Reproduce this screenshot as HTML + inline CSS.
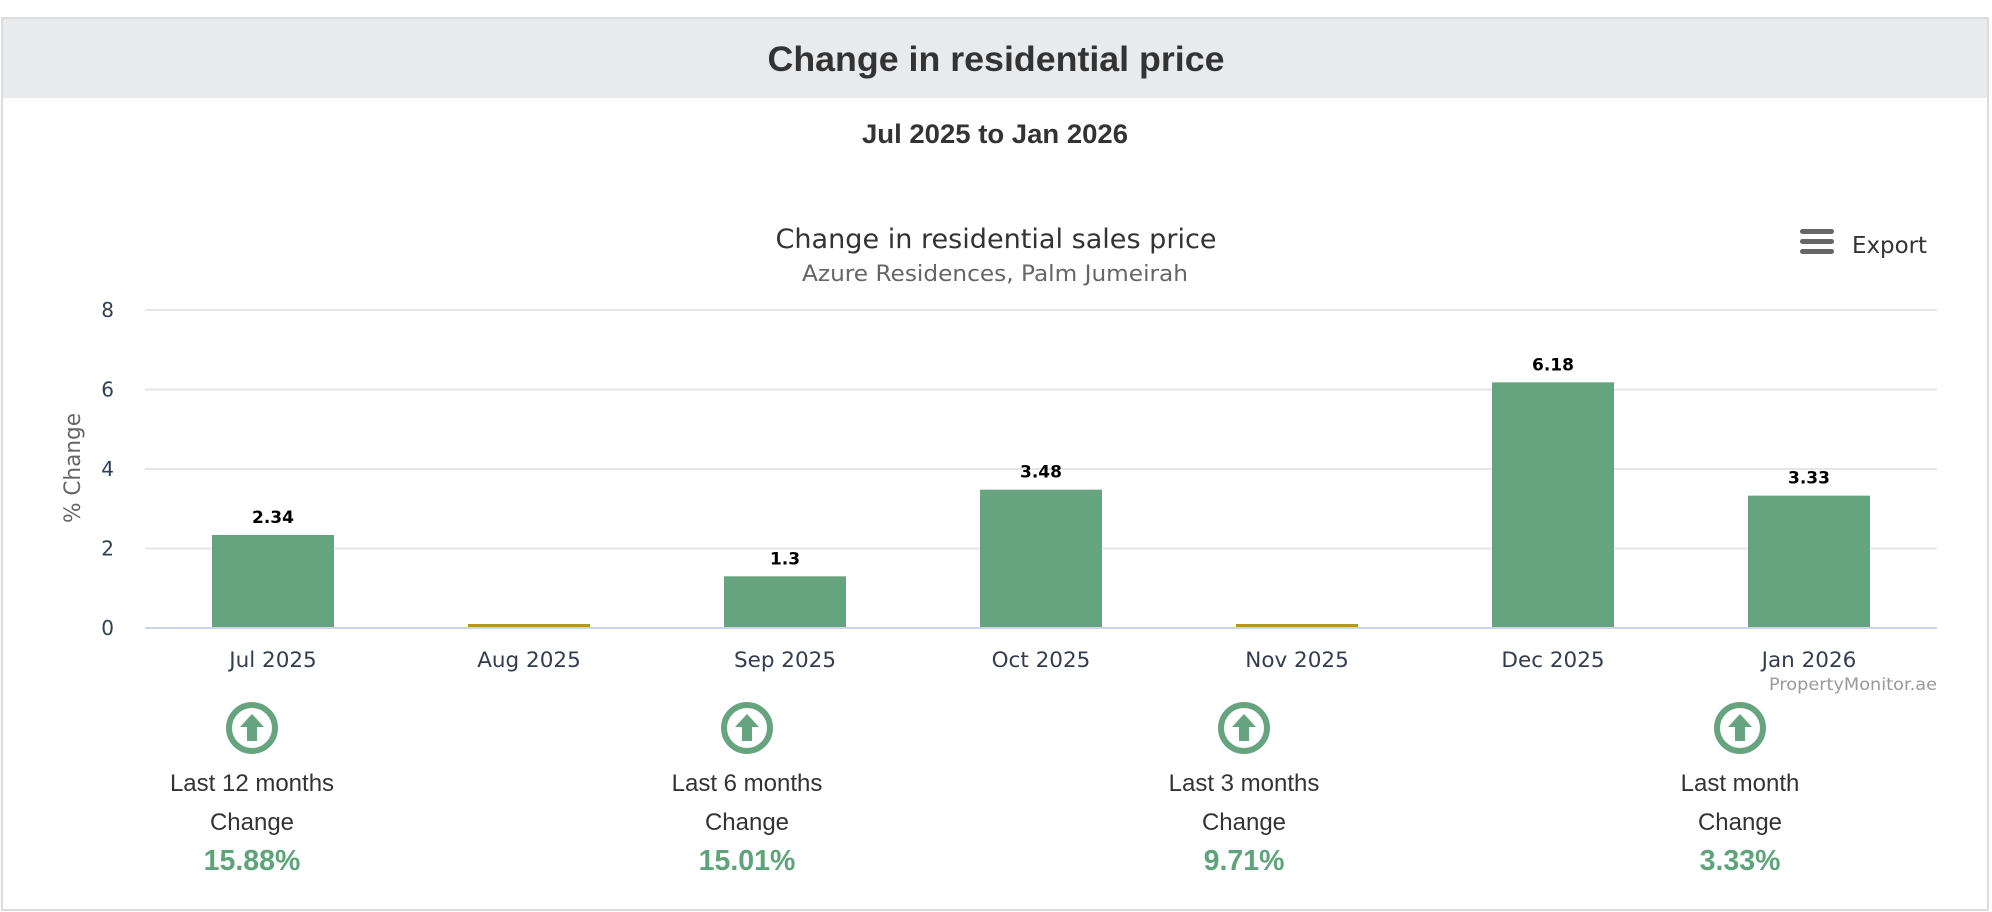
<!DOCTYPE html>
<html><head><meta charset="utf-8"><style>
html,body{margin:0;padding:0;background:#fff;}
svg{display:block;}
</style></head><body>
<svg id="chart" width="1992" height="912" viewBox="0 0 1992 912" xmlns="http://www.w3.org/2000/svg">
<rect x="2" y="18" width="1986" height="892" fill="#fff" stroke="#dcdcdc" stroke-width="2"/>
<rect x="3" y="19" width="1984" height="79" fill="#e9eaec"/>
<text x="996" y="71" text-anchor="middle" font-family="Liberation Sans, sans-serif" font-weight="bold" font-size="35" fill="#333" textLength="457" lengthAdjust="spacingAndGlyphs">Change in residential price</text>
<text x="995" y="143" text-anchor="middle" font-family="Liberation Sans, sans-serif" font-weight="bold" font-size="27" fill="#333" textLength="266" lengthAdjust="spacingAndGlyphs">Jul 2025 to Jan 2026</text>
<text x="996" y="248" text-anchor="middle" font-family="DejaVu Sans, sans-serif" font-size="27" fill="#333" textLength="441" lengthAdjust="spacingAndGlyphs">Change in residential sales price</text>
<text x="995" y="281" text-anchor="middle" font-family="DejaVu Sans, sans-serif" font-size="22" fill="#666" textLength="386" lengthAdjust="spacingAndGlyphs">Azure Residences, Palm Jumeirah</text>
<g>
<rect x="1800" y="229" width="34" height="5" rx="2.5" fill="#666"/>
<rect x="1800" y="239" width="34" height="5" rx="2.5" fill="#666"/>
<rect x="1800" y="249" width="34" height="5" rx="2.5" fill="#666"/>
<text x="1852" y="253" font-family="DejaVu Sans, sans-serif" font-size="23" fill="#333" textLength="75" lengthAdjust="spacingAndGlyphs">Export</text>
</g>
<text transform="translate(80,468) rotate(-90)" text-anchor="middle" font-family="DejaVu Sans, sans-serif" font-size="22" fill="#666" textLength="110" lengthAdjust="spacingAndGlyphs">% Change</text>
<g id="grid"></g><g id="bars"></g><g id="xlabels"></g>
<text x="1937" y="690" text-anchor="end" font-family="DejaVu Sans, sans-serif" font-size="17" fill="#999" textLength="168" lengthAdjust="spacingAndGlyphs">PropertyMonitor.ae</text>
<g id="summary"></g>
</svg>
<script>
const categories=["Jul 2025","Aug 2025","Sep 2025","Oct 2025","Nov 2025","Dec 2025","Jan 2026"];
const values=[2.34,0,1.3,3.48,0,6.18,3.33];
const yTicks=[0,2,4,6,8];
const summaryLabels=["Last 12 months","Last 6 months","Last 3 months","Last month"];
const summaryValues=["15.88%","15.01%","9.71%","3.33%"];
const NS="http://www.w3.org/2000/svg";
const L=145,R=1937,Y0=628,Y8=310;
const y=v=>Y0-(v/8)*(Y0-Y8);
const bw=(R-L)/categories.length;
const x=i=>L+bw*(i+0.5);
function mk(tag,attrs,parent,txt){const e=document.createElementNS(NS,tag);for(const k in attrs)e.setAttribute(k,attrs[k]);if(txt!=null)e.textContent=txt;parent.appendChild(e);return e;}
const g=document.getElementById('grid');
yTicks.forEach(t=>{
  const ln=mk('line',{x1:L,x2:R,y1:y(t),y2:y(t),stroke:t===0?'#ccd6eb':'#e6e6e6','stroke-width':2},g);
  
  
  const tx=mk('text',{x:114,y:y(t)+7,'text-anchor':'end','font-family':'DejaVu Sans, sans-serif','font-size':20,fill:'#333d4f'},g,String(t));
  
  
});
const b=document.getElementById('bars');
values.forEach((v,i)=>{
  const w=122;
  const zero=v===0;
  const top=zero?Y0-4:y(v);
  const r=mk('rect',{x:x(i)-w/2,y:top,width:w,height:Y0-top-1,fill:zero?'#b8922e':'#66a37f'},b);
  
  
  if(!zero){
    const t=mk('text',{x:x(i),y:top-12,'text-anchor':'middle','font-family':'DejaVu Sans, sans-serif','font-weight':'bold','font-size':17,fill:'#000'},b,String(v));
    
    
  }
});
const xl=document.getElementById('xlabels');
categories.forEach((c,i)=>{
  const t=mk('text',{x:x(i),y:667,'text-anchor':'middle','font-family':'DejaVu Sans, sans-serif','font-size':21.5,fill:'#333d4f'},xl,c);
  
  
});
const s=document.getElementById('summary');
const sx=[252,747,1244,1740];
summaryLabels.forEach((lab,i)=>{
  const cx=sx[i];
  const gg=mk('g',{},s);
  
  
  const c=mk('circle',{cx:cx,cy:728,r:23,fill:'none',stroke:'#66a37f','stroke-width':6},gg);
  
  
  mk('path',{d:`M${cx} ${714} L${cx+12} ${727} L${cx+5} ${727} L${cx+5} ${741} L${cx-5} ${741} L${cx-5} ${727} L${cx-12} ${727} Z`,fill:'#66a37f'},gg);
  mk('text',{x:cx,y:791,'text-anchor':'middle','font-family':'Liberation Sans, sans-serif','font-size':24,fill:'#333'},gg,lab);
  mk('text',{x:cx,y:830,'text-anchor':'middle','font-family':'Liberation Sans, sans-serif','font-size':24,fill:'#333'},gg,'Change');
  const p=mk('text',{x:cx,y:870,'text-anchor':'middle','font-family':'Liberation Sans, sans-serif','font-weight':'bold','font-size':28.5,fill:'#5fa37a'},gg,summaryValues[i]);
  
  
});
</script>
</body></html>
